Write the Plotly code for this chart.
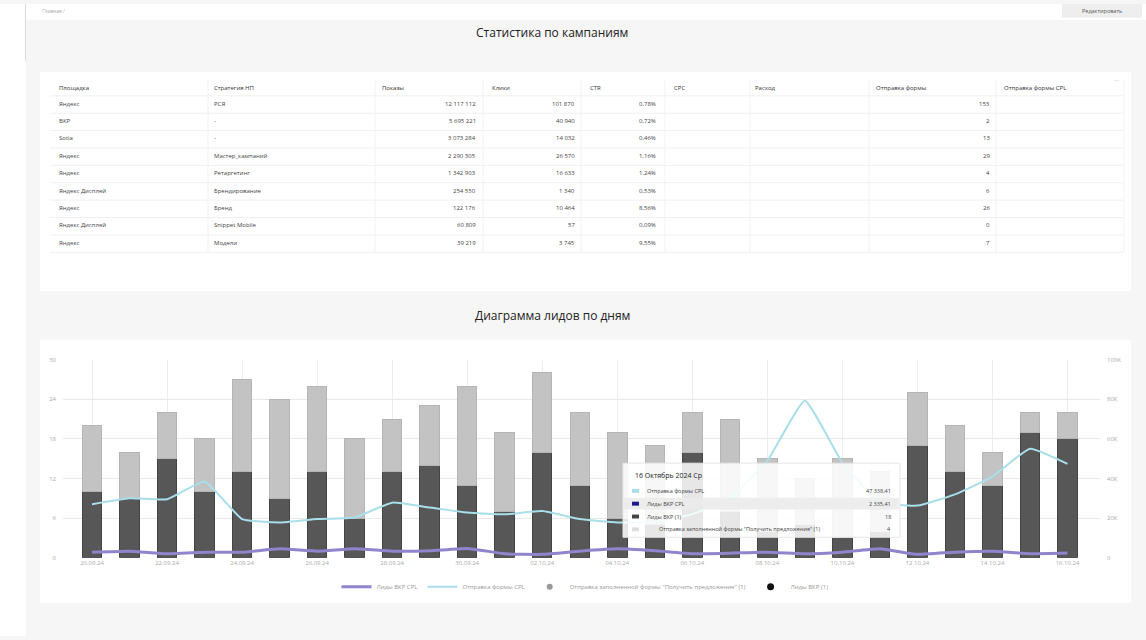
import plotly.graph_objects as go
import pandas as pd

W, H = 1146, 640
FONT = "Open Sans"

# ---------------- table data ----------------
table_headers = ["Площадка", "Стратегия НП", "Показы", "Клики", "CTR", "CPC", "Расход",
                 "Отправка формы", "Отправка формы CPL"]
platforms = ["Яндекс", "ВКР", "Sotia", "Яндекс", "Яндекс", "Яндекс Дисплей", "Яндекс",
             "Яндекс Дисплей", "Яндекс"]
strategies = ["РСЯ", "-", "-", "Мастер_кампаний", "Ретаргетинг", "Брендирование", "Бренд",
              "Snippet Mobile", "Модели"]
impressions = [12117112, 5695221, 3073284, 2290305, 1342903, 254550, 122176, 60809, 39219]
clicks = [101870, 40940, 14032, 26570, 16633, 1340, 10464, 57, 3745]
ctr = [0.78, 0.72, 0.46, 1.16, 1.24, 0.53, 8.56, 0.09, 9.55]
form_sends = [153, 2, 13, 29, 4, 6, 26, 0, 7]

# ---------------- chart data ----------------
dates = ["2024-09-20", "2024-09-21", "2024-09-22", "2024-09-23", "2024-09-24", "2024-09-25",
         "2024-09-26", "2024-09-27", "2024-09-28", "2024-09-29", "2024-09-30", "2024-10-01",
         "2024-10-02", "2024-10-03", "2024-10-04", "2024-10-05", "2024-10-06", "2024-10-07",
         "2024-10-08", "2024-10-09", "2024-10-10", "2024-10-11", "2024-10-12", "2024-10-13",
         "2024-10-14", "2024-10-15", "2024-10-16"]
leads_vkr = [10, 9, 15, 10, 13, 9, 13, 6, 13, 14, 11, 7, 16, 11, 6, 5, 16, 7, 4, 5, 3, 4,
             17, 13, 11, 19, 18]
form_leads = [10, 7, 7, 8, 14, 15, 13, 12, 8, 9, 15, 12, 12, 11, 13, 12, 6, 14, 11, 7, 12, 9,
              8, 7, 5, 3, 4]
form_cpl = [27000, 30000, 29500, 38500, 19500, 17800, 19500, 20300, 27800, 25300, 22800, 21900,
            23600, 19500, 17800, 18000, 22000, 30000, 49000, 79300, 48000, 28000, 26300, 32000,
            41000, 55000, 47338.41]
leads_cpl = [2800, 3300, 2000, 2800, 2800, 4500, 3300, 4500, 3300, 3500, 4700, 2000, 1700, 3300,
             4500, 3500, 2000, 2300, 2800, 2000, 2800, 4500, 1700, 2800, 3300, 2000, 2335.41]
left_ticks = [0, 6, 12, 18, 24, 30]
right_ticks = [0, 20000, 40000, 60000, 80000, 100000]
right_ticktext = ["0", "20K", "40K", "60K", "80K", "100K"]

LEG_FORM = "Отправка заполненной формы \"Получить предложение\" (1)"


def px(x):
    return x / W


def py(y):
    return 1 - y / H


def fmt_int(v):
    return f"{v:,}".replace(",", " ")


shapes = []
ann = []


def rect(x0, y0, x1, y1, fill, line=None, opacity=1, layer="below"):
    shapes.append(dict(type="rect", xref="paper", yref="paper", x0=px(x0), x1=px(x1),
                       y0=py(y1), y1=py(y0), fillcolor=fill, opacity=opacity, layer=layer,
                       line=dict(width=1 if line else 0, color=line or "rgba(0,0,0,0)")))


def hline(x0, x1, y, color, layer="below", width=1):
    shapes.append(dict(type="line", xref="paper", yref="paper", x0=px(x0), x1=px(x1),
                       y0=py(y), y1=py(y), layer=layer, line=dict(color=color, width=width)))


def vline(x, y0, y1, color, layer="below"):
    shapes.append(dict(type="line", xref="paper", yref="paper", x0=px(x), x1=px(x),
                       y0=py(y0), y1=py(y1), layer=layer, line=dict(color=color, width=1)))


def text(x, y, s, size=6, color="#444", anchor="left", bold=False):
    ann.append(dict(xref="paper", yref="paper", x=px(x), y=py(y), text=f"<b>{s}</b>" if bold else s,
                    showarrow=False, xanchor=anchor, yanchor="middle",
                    font=dict(size=size, color=color, family=FONT)))


# ---------------- page chrome ----------------
rect(0, 0, 26, 640, "#ffffff")
vline(25.5, 0, 58, "#d8d8f0")
rect(26, 0, 1146, 16, "#ffffff")
text(40, 7, "Главная /", size=5, color="#aaa")
rect(1062, 0, 1142, 14, "#eeeeee")
text(1102, 7, "Редактировать", size=5.5, color="#555", anchor="center")
text(552, 29, "Статистика по кампаниям", size=12, color="#222", anchor="center")
text(552, 315, "Диаграмма лидов по дням", size=12, color="#222", anchor="center")

# table panel
rect(40, 69, 1131, 291, "#ffffff")
text(1116, 77, "···", size=6, color="#999", anchor="center")
row_y0, row_step = 101, 17.6
n_rows = len(platforms)
for i in range(n_rows + 1):
    hline(50, 1123, 93 + i * row_step, "#f0f0f0")
for xv in [208, 375, 483, 581, 665, 750, 869, 996, 1124]:
    vline(xv, 77, 93 + n_rows * row_step, "#f2f2f2")
header_x = [57, 212, 380, 490, 588, 672, 753, 874, 1002]
for hx, h in zip(header_x, table_headers):
    text(hx, 85, h, size=6, color="#333")
for i in range(n_rows):
    yy = row_y0 + i * row_step
    text(57, yy, platforms[i], color="#444")
    text(212, yy, strategies[i], color="#444")
    text(478, yy, fmt_int(impressions[i]), color="#444", anchor="right")
    text(577, yy, fmt_int(clicks[i]), color="#444", anchor="right")
    text(658, yy, f"{ctr[i]:.2f}%".replace(".", ","), color="#444", anchor="right")
    text(992, yy, str(form_sends[i]), color="#444", anchor="right")

# chart panel
rect(40, 340, 1131, 606, "#ffffff")

# ---------------- chart ----------------
day_px = 37.52
x_left = pd.Timestamp(dates[0]) - pd.Timedelta(days=(92 - 63) / day_px)
x_right = pd.Timestamp(dates[-1]) + pd.Timedelta(days=(1100 - 1067.5) / day_px)
tick_dates = dates[::2]
tick_text = [pd.Timestamp(d).strftime("%d.%m.%y") for d in tick_dates]

fig = go.Figure()
bar_w = 0.52 * 86400000
fig.add_trace(go.Bar(x=dates, y=leads_vkr, name="Лиды ВКР (1)", width=bar_w,
                     marker=dict(color="#575757", line=dict(color="#444", width=1)),
                     showlegend=False))
fig.add_trace(go.Bar(x=dates, y=form_leads, name=LEG_FORM, width=bar_w,
                     marker=dict(color="#c3c3c3", line=dict(color="#b5b5b5", width=1)),
                     showlegend=False))
fig.add_trace(go.Scatter(x=dates, y=leads_cpl, name="Лиды ВКР CPL", yaxis="y2", mode="lines",
                         line=dict(color="#9085cc", width=3, shape="spline", smoothing=0.4)))
fig.add_trace(go.Scatter(x=dates, y=form_cpl, name="Отправка формы CPL", yaxis="y2", mode="lines",
                         line=dict(color="#a8dfe9", width=2, shape="spline", smoothing=0.4)))
# legend-only entries (circle icons) for the bar series
fig.add_trace(go.Scatter(x=[None], y=[None], mode="markers", name=LEG_FORM,
                         marker=dict(color="#9a9a9a", size=6, symbol="circle")))
fig.add_trace(go.Scatter(x=[None], y=[None], mode="markers", name="Лиды ВКР (1)",
                         marker=dict(color="#111111", size=7, symbol="circle")))

# ---------------- tooltip (hover card) ----------------
tx0, ty0, tx1, ty1 = 623, 465, 900, 540
shapes.append(dict(type="rect", xref="paper", yref="paper", x0=px(tx0), x1=px(tx1),
                   y0=py(ty1), y1=py(ty0), fillcolor="rgba(255,255,255,0.86)", layer="above",
                   line=dict(color="#e6e6e6", width=1)))
shapes.append(dict(type="rect", xref="paper", yref="paper", x0=px(tx0 + 1), x1=px(tx1 - 1),
                   y0=py(512), y1=py(500), fillcolor="rgba(235,235,235,0.9)", layer="above",
                   line=dict(width=0)))
ann.append(dict(xref="paper", yref="paper", x=px(633), y=py(477), text="16 Октябрь 2024 Ср",
                showarrow=False, xanchor="left", yanchor="middle",
                font=dict(size=7, color="#222", family=FONT)))
tip_rows = [("#a8dfe9", "Отправка формы CPL", "47 338,41", 645),
            ("#1c1c8a", "Лиды ВКР CPL", "2 335,41", 645),
            ("#444444", "Лиды ВКР (1)", str(leads_vkr[-1]), 645),
            ("#dddddd", LEG_FORM, str(form_leads[-1]), 657)]
for k, (c, lab, val, lx) in enumerate(tip_rows):
    yy = 493 + k * 13
    shapes.append(dict(type="rect", xref="paper", yref="paper", x0=px(632), x1=px(639),
                       y0=py(yy + 2), y1=py(yy - 2), fillcolor=c, layer="above",
                       line=dict(width=0)))
    ann.append(dict(xref="paper", yref="paper", x=px(lx), y=py(yy), text=lab, showarrow=False,
                    xanchor="left", yanchor="middle", font=dict(size=5.5, color="#444", family=FONT)))
    ann.append(dict(xref="paper", yref="paper", x=px(893), y=py(yy), text=val, showarrow=False,
                    xanchor="right", yanchor="middle", font=dict(size=5.5, color="#444", family=FONT)))

fig.update_layout(
    width=W, height=H, autosize=False,
    margin=dict(l=0, r=0, t=0, b=0, pad=0),
    paper_bgcolor="#f6f6f6", plot_bgcolor="#ffffff",
    font=dict(family=FONT, size=6, color="#aaa"),
    barmode="stack", bargap=0.3,
    shapes=shapes, annotations=ann,
    showlegend=True,
    legend=dict(orientation="h", x=px(585), y=py(590), xanchor="center", yanchor="middle",
                font=dict(size=6, color="#999", family=FONT), itemwidth=30,
                traceorder="normal", bgcolor="rgba(0,0,0,0)"),
    xaxis=dict(type="date", domain=[px(63), px(1100)],
               range=[x_left.strftime("%Y-%m-%d %H:%M:%S"), x_right.strftime("%Y-%m-%d %H:%M:%S")],
               tickmode="array", tickvals=tick_dates, ticktext=tick_text,
               showgrid=True, gridcolor="#ededed", zeroline=False, showline=False,
               tickfont=dict(size=6, color="#aaa"), ticks=""),
    yaxis=dict(domain=[py(560.7), py(360.2)], range=[0, 30], tickmode="array",
               tickvals=left_ticks, showgrid=True, gridcolor="#e9e9e9", zeroline=False,
               tickfont=dict(size=6, color="#aaa"), ticks="", ticklabelstandoff=6),
    yaxis2=dict(overlaying="y", side="right", range=[0, 100000], tickmode="array",
                tickvals=right_ticks, ticktext=right_ticktext, showgrid=False, zeroline=False,
                tickfont=dict(size=6, color="#aaa"), ticks="", anchor="x", ticklabelstandoff=6),
)

fig.write_html("out.html")
